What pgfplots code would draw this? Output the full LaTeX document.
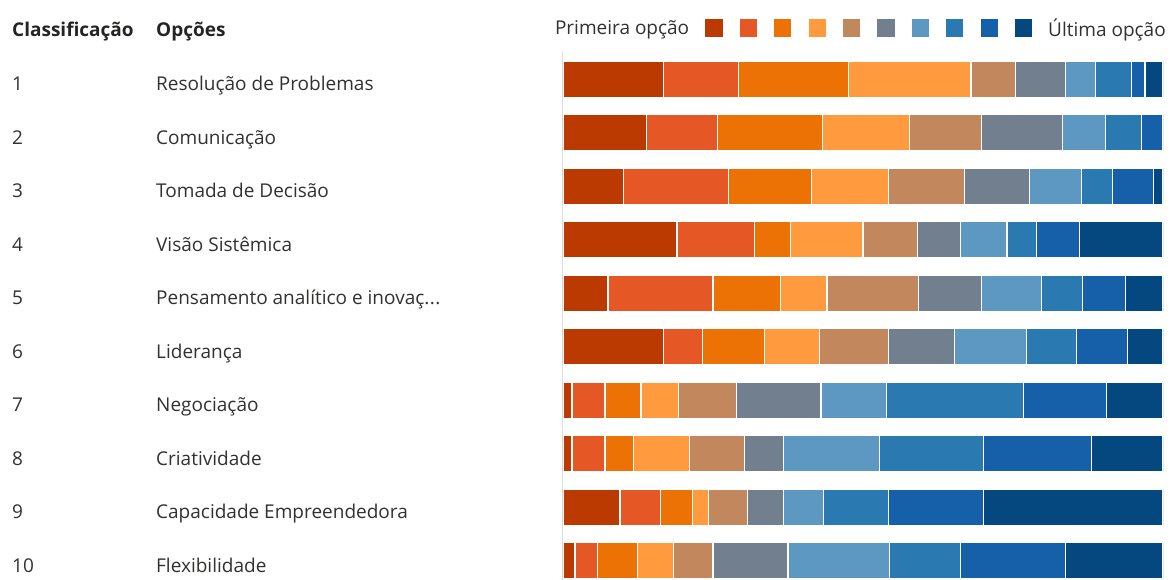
\documentclass[border=0pt]{standalone}
\usepackage{fontspec}
\setmainfont{Open Sans}
\usepackage{pgfplots}
\usepackage{pgfplotstable}
\pgfplotsset{compat=1.18}
\definecolor{c1}{RGB}{187,58,2}
\definecolor{c2}{RGB}{230,87,38}
\definecolor{c3}{RGB}{236,114,5}
\definecolor{c4}{RGB}{255,154,63}
\definecolor{c5}{RGB}{194,135,93}
\definecolor{c6}{RGB}{113,127,142}
\definecolor{c7}{RGB}{92,152,193}
\definecolor{c8}{RGB}{42,121,176}
\definecolor{c9}{RGB}{22,96,170}
\definecolor{c10}{RGB}{4,72,127}
\definecolor{hdr}{RGB}{37,36,35}
\definecolor{lbl}{RGB}{50,49,48}
\pgfplotstableread{
rank s1 s2 s3 s4 s5 s6 s7 s8 s9 s10
1 16.7 12.6 18.3 20.4 7.4 8.3 5.0 6.0 2.3 3.0
2 13.9 11.9 17.5 14.4 12.0 13.5 7.2 6.0 3.6 0
3 10.1 17.5 13.8 12.9 12.6 10.9 8.6 5.2 6.8 1.6
4 19.0 12.9 6.0 12.1 9.1 7.1 7.8 4.9 7.2 13.9
5 7.5 17.5 11.3 7.7 15.2 10.5 10.1 6.8 7.2 6.2
6 16.7 6.6 10.3 9.2 11.5 10.9 12.1 8.3 8.5 5.9
7 1.5 5.5 6.0 6.2 9.7 14.1 10.9 22.9 13.8 9.4
8 1.5 5.5 4.8 9.3 9.1 6.6 15.9 17.4 18.0 11.9
9 9.5 6.8 5.3 2.6 6.6 6.0 6.6 10.9 15.8 29.9
10 2.0 3.8 6.6 6.0 6.6 12.5 16.9 11.9 17.5 16.2
}\data
\newcommand{\fs}{\fontsize{19}{23}\selectfont}
\newcommand{\tdots}{.\kern0.5pt.\kern0.5pt.}
\begin{document}
\begin{tikzpicture}[font=\fs]
\useasboundingbox (0,0) rectangle (1173pt,580pt);
\node[anchor=base west, inner sep=0pt, font=\fs\bfseries, text=hdr] at (12pt,543.3pt) {Classificação};
\node[anchor=base west, inner sep=0pt, font=\fs\bfseries, text=hdr] at (156pt,543.3pt) {Opções};
\begin{axis}[
  at={(563pt,527.55pt)}, anchor=north west,
  scale only axis, width=600pt, height=535pt,
  xmin=0, xmax=100, ymin=0.5, ymax=10.5, y dir=reverse,
  xbar stacked, bar width=36pt,
  every axis plot/.append style={draw=white, line width=1.2pt},
  axis x line=none, axis y line*=left,
  y axis line style={draw=black!12, line width=1pt},
  ytick={1,2,3,4,5,6,7,8,9,10}, major tick length=0pt, ytick style={draw=none},
  yticklabels={
    {\makebox[144pt][l]{1}Resolução de Problemas},
    {\makebox[144pt][l]{2}Comunicação},
    {\makebox[144pt][l]{3}Tomada de Decisão},
    {\makebox[144pt][l]{4}Visão Sistêmica},
    {\makebox[144pt][l]{5}Pensamento analítico e inovaç\tdots},
    {\makebox[144pt][l]{6}Liderança},
    {\makebox[144pt][l]{7}Negociação},
    {\makebox[144pt][l]{8}Criatividade},
    {\makebox[144pt][l]{9}Capacidade Empreendedora},
    {\makebox[144pt][l]{10}Flexibilidade}},
  yticklabel style={anchor=base west, inner sep=0pt, xshift=-551pt, yshift=-11.5pt, text=lbl, font=\fs},
  legend columns=-1,
  legend style={at={(axis description cs:-0.0133,1.0457)}, anchor=west, draw=none, fill=none,
    inner sep=0pt, outer sep=0pt, column sep=0pt,
    /tikz/every even column/.style={column sep=16.2pt},
    nodes={inner sep=0pt, outer sep=0pt, text=lbl}, font=\fs},
]
\addlegendimage{empty legend}\addlegendentry{Primeira opção}
\addplot[fill=c1, legend image code/.code={\fill[c1] (0pt,-8pt) rectangle (16pt,8pt);}] table[x=s1,y=rank]{\data};
\addlegendentry{}
\addplot[fill=c2, legend image code/.code={\fill[c2] (0pt,-8pt) rectangle (16pt,8pt);}] table[x=s2,y=rank]{\data};
\addlegendentry{}
\addplot[fill=c3, legend image code/.code={\fill[c3] (0pt,-8pt) rectangle (16pt,8pt);}] table[x=s3,y=rank]{\data};
\addlegendentry{}
\addplot[fill=c4, legend image code/.code={\fill[c4] (0pt,-8pt) rectangle (16pt,8pt);}] table[x=s4,y=rank]{\data};
\addlegendentry{}
\addplot[fill=c5, legend image code/.code={\fill[c5] (0pt,-8pt) rectangle (16pt,8pt);}] table[x=s5,y=rank]{\data};
\addlegendentry{}
\addplot[fill=c6, legend image code/.code={\fill[c6] (0pt,-8pt) rectangle (16pt,8pt);}] table[x=s6,y=rank]{\data};
\addlegendentry{}
\addplot[fill=c7, legend image code/.code={\fill[c7] (0pt,-8pt) rectangle (16pt,8pt);}] table[x=s7,y=rank]{\data};
\addlegendentry{}
\addplot[fill=c8, legend image code/.code={\fill[c8] (0pt,-8pt) rectangle (16pt,8pt);}] table[x=s8,y=rank]{\data};
\addlegendentry{}
\addplot[fill=c9, legend image code/.code={\fill[c9] (0pt,-8pt) rectangle (16pt,8pt);}] table[x=s9,y=rank]{\data};
\addlegendentry{}
\addplot[fill=c10, legend image code/.code={\fill[c10] (0pt,-8pt) rectangle (16pt,8pt);}] table[x=s10,y=rank]{\data};
\addlegendentry{\hspace*{16pt}Última opção}
\end{axis}
\end{tikzpicture}
\end{document}
